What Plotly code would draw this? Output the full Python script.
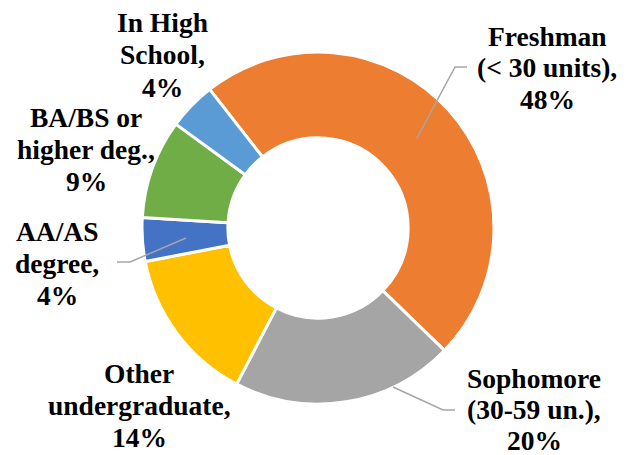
import plotly.graph_objects as go

W, H = 635, 455
OFF = 8  # page body margin in the browser

categories = ["Freshman (< 30 units)", "Sophomore (30-59 un.)", "Other undergraduate",
              "AA/AS degree", "BA/BS or higher deg.", "In High School"]
values = [47.8, 20.4, 14.3, 4.0, 9.1, 4.4]
pct_labels = ["48%", "20%", "14%", "4%", "9%", "4%"]
colors = ["#ED7D31", "#A5A5A5", "#FFC000", "#4472C4", "#70AD47", "#5B9BD5"]

label_lines = [
    ["Freshman", "(< 30 units),"],
    ["Sophomore", "(30-59 un.),"],
    ["Other", "undergraduate,"],
    ["AA/AS", "degree,"],
    ["BA/BS or", "higher deg.,"],
    ["In High", "School,"],
]
label_x = [547, 534, 139, 57, 86, 162]
label_top = [36, 378, 373, 231, 117, 23]
label_gap = [32, 31, 32, 32, 32, 32]

leaders = {
    0: [(417, 138), (455, 67), (467, 67)],
    1: [(393, 387), (443, 410), (455, 410)],
    3: [(186, 238), (130, 262), (117, 262)],
}

cx, cy, R = 318, 228, 176

def px(x):
    return (x - OFF) / W

def py(y):
    return 1 - (y - OFF) / H

fig = go.Figure(go.Pie(
    labels=categories,
    values=values,
    sort=False,
    direction="clockwise",
    rotation=-38,
    hole=0.512,
    marker=dict(colors=colors, line=dict(color="white", width=3)),
    textinfo="none",
    showlegend=False,
    domain=dict(x=[px(cx - R), px(cx + R)], y=[py(cy + R), py(cy - R)]),
))

FONT = "Liberation Serif"

annotations = []
for i, lines in enumerate(label_lines):
    all_lines = lines + [pct_labels[i]]
    for j, t in enumerate(all_lines):
        annotations.append(dict(
            x=px(label_x[i]), y=py(label_top[i] + j * label_gap[i]),
            xref="paper", yref="paper", text="<b>" + t + "</b>", showarrow=False,
            xanchor="center", yanchor="middle",
            font=dict(family=FONT, size=27.5, color="black"),
        ))

shapes = []
for i, pts in leaders.items():
    path = "M " + " L ".join(f"{px(x):.5f},{py(y):.5f}" for x, y in pts)
    shapes.append(dict(type="path", path=path, xref="paper", yref="paper",
                       line=dict(color="#A6A6A6", width=1.5)))

fig.update_layout(
    width=W, height=H,
    margin=dict(l=0, r=0, t=0, b=0),
    paper_bgcolor="white", plot_bgcolor="white",
    annotations=annotations, shapes=shapes,
)

fig.write_html("out.html")
